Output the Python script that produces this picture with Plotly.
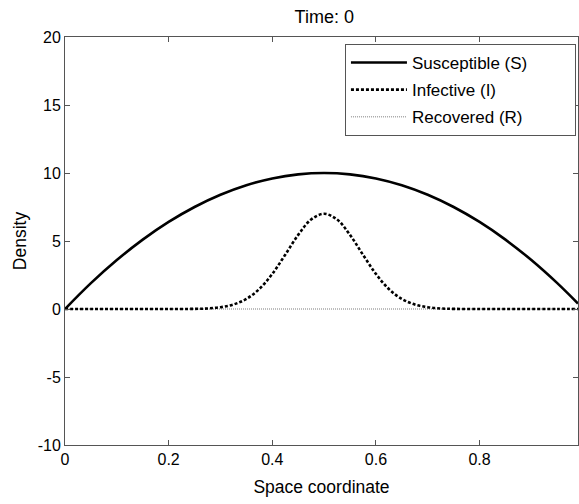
import plotly.graph_objects as go

# Data
x_s = [0, 0.05, 0.1, 0.15, 0.2, 0.25, 0.3, 0.35, 0.4, 0.45, 0.5,
       0.55, 0.6, 0.65, 0.7, 0.75, 0.8, 0.85, 0.9, 0.95, 0.99]
susceptible = [0, 1.9, 3.6, 5.1, 6.4, 7.5, 8.4, 9.1, 9.6, 9.9, 10.0,
               9.9, 9.6, 9.1, 8.4, 7.5, 6.4, 5.1, 3.6, 1.9, 0.4]

x_i = [0, 0.05, 0.1, 0.15, 0.2, 0.25, 0.275, 0.3, 0.325, 0.35, 0.375, 0.4,
       0.425, 0.45, 0.475, 0.5, 0.525, 0.55, 0.575, 0.6, 0.625, 0.65,
       0.675, 0.7, 0.725, 0.75, 0.8, 0.85, 0.9, 0.95, 0.99]
infective = [0, 0, 0, 0, 0, 0.01, 0.04, 0.13, 0.33, 0.74, 1.47, 2.58,
             3.99, 5.45, 6.58, 7.0, 6.58, 5.45, 3.99, 2.58, 1.47, 0.74,
             0.33, 0.13, 0.04, 0.01, 0, 0, 0, 0, 0]

x_r = [0, 0.25, 0.5, 0.75, 0.99]
recovered = [0, 0, 0, 0, 0]

x_ticks = [0, 0.2, 0.4, 0.6, 0.8]
x_tick_labels = ["0", "0.2", "0.4", "0.6", "0.8"]
y_ticks = [-10, -5, 0, 5, 10, 15, 20]
y_tick_labels = ["-10", "-5", "0", "5", "10", "15", "20"]

FONT = "Liberation Sans, Arial, sans-serif"
PAD = "\u00a0" * 9

fig = go.Figure()
fig.add_trace(go.Scatter(x=x_r, y=recovered, mode="lines", name="Recovered (R)" + PAD,
                         legendgroup="r", legendrank=3,
                         line=dict(color="#a8a8a8", width=1.5, dash="1px,1px")))
fig.add_trace(go.Scatter(x=x_i, y=infective, mode="lines", name="Infective (I)" + PAD,
                         legendgroup="i", legendrank=2,
                         line=dict(color="black", width=2.6, dash="3px,2px", shape="spline")))
fig.add_trace(go.Scatter(x=x_s, y=susceptible, mode="lines", name="Susceptible (S)" + PAD,
                         legendgroup="s", legendrank=1,
                         line=dict(color="black", width=2.6, shape="spline")))

axis_common = dict(showgrid=False, zeroline=False, showline=True, linecolor="#555555",
                   linewidth=1, mirror="ticks", ticks="inside", ticklen=5,
                   tickcolor="#555555", tickfont=dict(family=FONT, size=16, color="black"))

fig.update_layout(
    width=579, height=504,
    margin=dict(l=65, r=1, t=37, b=59),
    paper_bgcolor="white", plot_bgcolor="white",
    title=dict(text="Time: 0", x=0.56, xanchor="center", y=0.966, yanchor="middle",
               font=dict(family=FONT, size=18, color="black")),
    xaxis=dict(range=[0, 0.99], tickvals=x_ticks, ticktext=x_tick_labels,
               title=dict(text="Space coordinate", font=dict(family=FONT, size=17.5, color="black"),
                          standoff=13),
               **axis_common),
    yaxis=dict(range=[-10, 20], tickvals=y_ticks, ticktext=y_tick_labels,
               title=dict(text="Density", font=dict(family=FONT, size=17.5, color="black"),
                          standoff=6),
               **axis_common),
    legend=dict(x=0.996, xanchor="right", y=0.983, yanchor="top",
                bgcolor="white", bordercolor="#555555", borderwidth=1,
                font=dict(family=FONT, size=17, color="black"),
                traceorder="grouped", tracegroupgap=2, itemwidth=56),
    showlegend=True,
)

fig.write_html("out.html")
